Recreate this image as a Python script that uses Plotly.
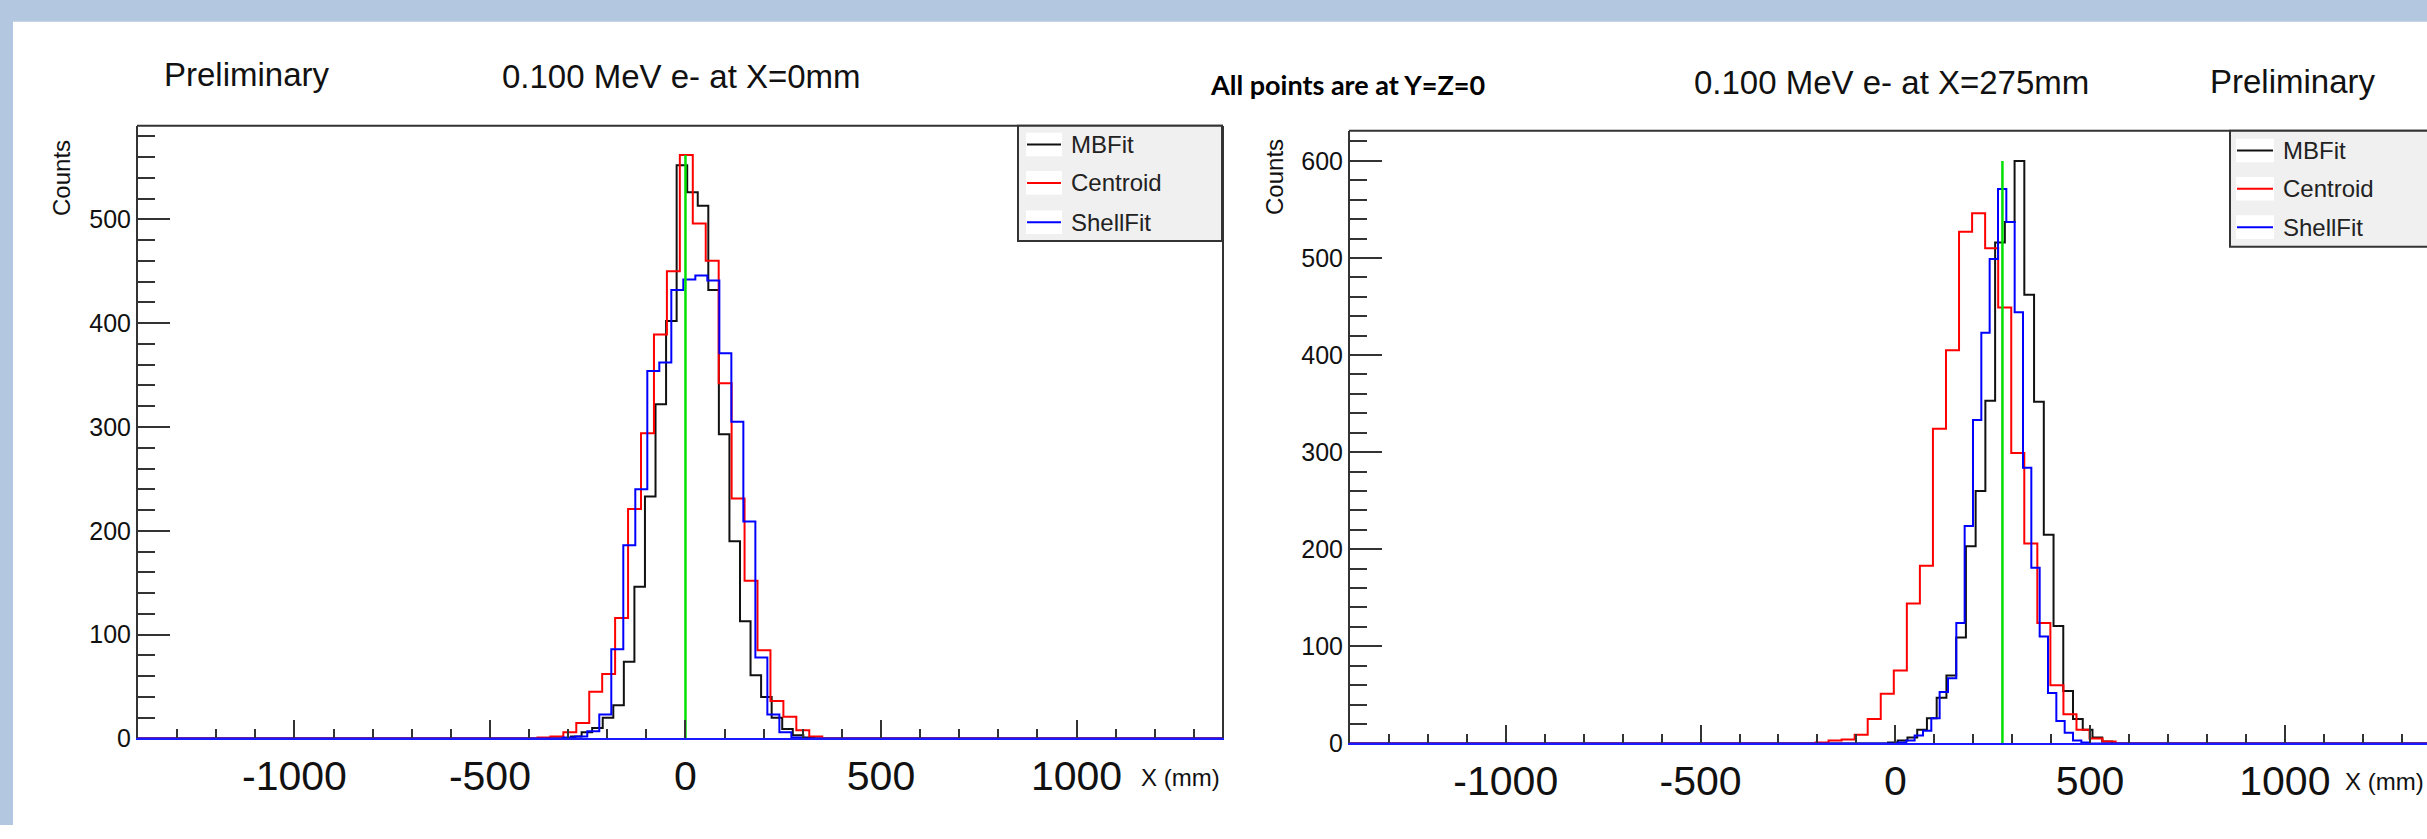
import plotly.graph_objects as go

W, H = 2427, 839

# ------------------------------------------------------------------ data
# Left panel : 0.100 MeV e- at X=0mm   (each series has its own uniform binning, mm)
left_true_x = 0
left_mbfit_start, left_mbfit_width = -292.6, 27.0
left_mbfit_counts = [2, 6, 10, 20, 32, 74, 146, 233, 322, 402, 552, 526, 513, 432,
                     293, 190, 113, 61, 40, 20, 9, 3, 1]
left_centroid_start, left_centroid_width = -378.5, 33.1
left_centroid_counts = [1, 2, 6, 15, 45, 62, 116, 221, 294, 389, 450, 562, 496, 460,
                        342, 231, 152, 85, 36, 21, 8, 2]
left_shellfit_start, left_shellfit_width = -312.5, 30.7
left_shellfit_counts = [1, 2, 7, 23, 86, 186, 240, 354, 362, 432, 442, 446, 441, 371,
                        305, 209, 78, 23, 6, 1]

# Right panel : 0.100 MeV e- at X=275mm
right_true_x = 275
right_mbfit_start, right_mbfit_width = -18.8, 25.0
right_mbfit_counts = [1, 3, 6, 14, 26, 47, 70, 109, 203, 260, 353, 516, 537, 600, 462,
                      352, 215, 121, 54, 25, 14, 6, 2]
right_centroid_start, right_centroid_width = -204.9, 33.5
right_centroid_counts = [1, 3, 4, 9, 25, 51, 75, 144, 183, 324, 405, 527, 546, 510, 449,
                         299, 206, 124, 60, 30, 14, 5, 2]
right_shellfit_start, right_shellfit_width = 6.8, 21.4
right_shellfit_counts = [1, 3, 8, 13, 26, 53, 67, 124, 224, 333, 423, 499, 571, 537, 444,
                         284, 181, 110, 52, 23, 11, 3, 1]

series_names = ["MBFit", "Centroid", "ShellFit"]
x_tick_vals = [-1000, -500, 0, 500, 1000]
x_tick_text = ["-1000", "-500", "0", "500", "1000"]
left_y_ticks = [0, 100, 200, 300, 400, 500]
right_y_ticks = [0, 100, 200, 300, 400, 500, 600]

left_title = "0.100 MeV e- at X=0mm"
right_title = "0.100 MeV e- at X=275mm"
center_note = "All points are at Y=Z=0"
prelim = "Preliminary"

# ------------------------------------------------------------------ style
COLORS = {"MBFit": "#111111", "Centroid": "#ff0000", "ShellFit": "#0000ff"}
GREEN = "#00e000"
FRAME = "#333333"
BAND = "#b4c7e1"
FONT = "Liberation Sans, Arial, sans-serif"

XMIN = -1400
X1_MAX = 1372
X2_MAX = 1365


def px(x):
    return x / W


def py(y):
    return 1 - y / H


def step_xy(start, width, counts, xmin, xmax):
    edges = [start + i * width for i in range(len(counts) + 1)]
    xs = [xmin] + edges + [xmax]
    ys = [0] + list(counts) + [0, 0]
    return xs, ys


fig = go.Figure()

panels = [
    ("x", "y", X1_MAX, left_true_x,
     [(left_mbfit_start, left_mbfit_width, left_mbfit_counts),
      (left_centroid_start, left_centroid_width, left_centroid_counts),
      (left_shellfit_start, left_shellfit_width, left_shellfit_counts)]),
    ("x2", "y2", X2_MAX, right_true_x,
     [(right_mbfit_start, right_mbfit_width, right_mbfit_counts),
      (right_centroid_start, right_centroid_width, right_centroid_counts),
      (right_shellfit_start, right_shellfit_width, right_shellfit_counts)]),
]

for xa, ya, xmax, true_x, sers in panels:
    peak = 0
    for name, (st, wd, cts) in zip(series_names, sers):
        xs, ys = step_xy(st, wd, cts, XMIN, xmax)
        peak = max(peak, max(cts))
        fig.add_trace(go.Scatter(x=xs, y=ys, mode="lines", line_shape="hv",
                                 line=dict(color=COLORS[name], width=2),
                                 name=name, showlegend=False, xaxis=xa, yaxis=ya,
                                 hoverinfo="skip"))
    fig.add_trace(go.Scatter(x=[true_x, true_x], y=[0, peak], mode="lines",
                             line=dict(color=GREEN, width=2.5), showlegend=False,
                             name="true X", xaxis=xa, yaxis=ya, hoverinfo="skip"))

axis_common = dict(showgrid=False, zeroline=False, ticks="inside", tickwidth=2,
                   tickcolor=FRAME, showline=True, linewidth=2)

xax = dict(axis_common, tickvals=x_tick_vals, ticktext=x_tick_text, ticklen=18,
           linecolor="#1a1aff",
           tickfont=dict(family=FONT, size=41, color="#111111"),
           minor=dict(dtick=100, ticklen=9, tickwidth=2, tickcolor=FRAME, ticks="inside",
                      showgrid=False))
yax = dict(axis_common, ticklen=32, linecolor=FRAME,
           tickfont=dict(family=FONT, size=25, color="#111111"),
           minor=dict(dtick=20, ticklen=17, tickwidth=2, tickcolor=FRAME, ticks="inside",
                      showgrid=False))

fig.update_layout(
    width=W, height=H, margin=dict(l=0, r=0, t=0, b=0),
    paper_bgcolor="white", plot_bgcolor="white",
    xaxis=dict(xax, domain=[px(138), px(1222)], range=[XMIN, X1_MAX], anchor="y"),
    yaxis=dict(yax, domain=[py(751), py(128)], range=[0, 590], anchor="x",
               tickvals=left_y_ticks, mirror=True),
    xaxis2=dict(xax, domain=[px(1350), 1.0], range=[XMIN, X2_MAX], anchor="y2"),
    yaxis2=dict(yax, domain=[py(756), py(133)], range=[0, 631], anchor="x2",
                tickvals=right_y_ticks),
)

shapes = [
    # slide background band and strip
    dict(type="rect", xref="paper", yref="paper", x0=0, x1=1, y0=py(22), y1=1,
         fillcolor=BAND, line=dict(width=0), layer="below"),
    dict(type="rect", xref="paper", yref="paper", x0=0, x1=px(13), y0=0, y1=1,
         fillcolor=BAND, line=dict(width=0), layer="below"),
    # top frame lines
    dict(type="line", xref="paper", yref="paper", x0=px(137), x1=px(1223), y0=py(128),
         y1=py(128), line=dict(color=FRAME, width=2)),
    dict(type="line", xref="paper", yref="paper", x0=px(1349), x1=1.0, y0=py(133),
         y1=py(133), line=dict(color=FRAME, width=2)),
]

annotations = []


def text(x, y, s, size, xanchor="center", family=FONT, color="#111111", angle=0):
    annotations.append(dict(x=px(x), y=py(y), xref="paper", yref="paper", text=s,
                            showarrow=False, xanchor=xanchor, yanchor="middle",
                            textangle=angle,
                            font=dict(size=size, family=family, color=color)))


# titles
text(247, 76, prelim, 33)
text(681, 78, left_title, 33)
text(1347, 86, "<b>" + center_note + "</b>", 27, family="Lato, sans-serif",
     color="#000000")
text(1891, 84, right_title, 33)
text(2293, 83, prelim, 33)

# axis titles
text(62, 181, "Counts", 24, angle=-90)
text(1275, 180, "Counts", 24, angle=-90)
text(1222, 791, "X (mm)", 24, xanchor="right")
text(2426, 795, "X (mm)", 24, xanchor="right")

# legends (drawn as boxes with sample lines)
legend_specs = [
    (1018, 1222, 128, 245, 1027, 1061, 1069, [147, 186, 226]),
    (2230, 2440, 133, 251, 2237, 2273, 2281, [153, 192, 231]),
]
for bx0, bx1, by0, by1, lx0, lx1, tx, ys in legend_specs:
    shapes.append(dict(type="rect", xref="paper", yref="paper", x0=px(bx0), x1=px(bx1),
                       y0=py(by1), y1=py(by0), fillcolor="#f0f0f0",
                       line=dict(color=FRAME, width=2)))
    for name, yy in zip(series_names, ys):
        shapes.append(dict(type="rect", xref="paper", yref="paper", x0=px(lx0 - 1),
                           x1=px(lx1 + 1), y0=py(yy + 12), y1=py(yy - 12),
                           fillcolor="white", line=dict(width=0)))
        shapes.append(dict(type="line", xref="paper", yref="paper", x0=px(lx0),
                           x1=px(lx1), y0=py(yy), y1=py(yy),
                           line=dict(color=COLORS[name], width=2)))
        text(tx, yy, name, 24, xanchor="left", color="#222222")

fig.update_layout(shapes=shapes, annotations=annotations)
fig.write_html("out.html")
